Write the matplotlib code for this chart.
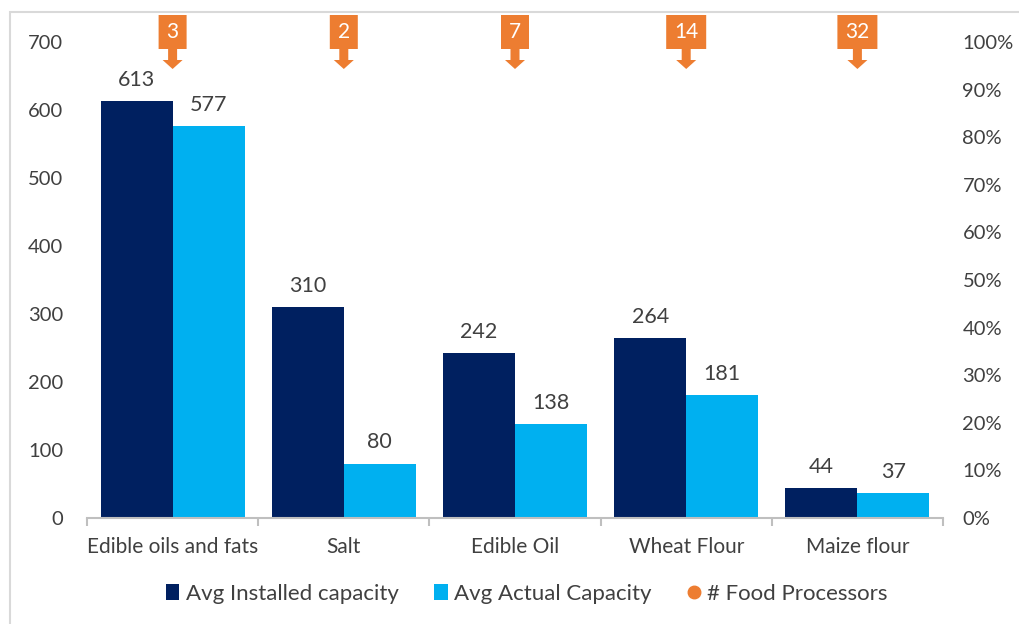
import numpy as np
import matplotlib
matplotlib.use("Agg")
import matplotlib.pyplot as plt
import matplotlib.transforms as mtransforms
from matplotlib.patches import Polygon, Rectangle
from matplotlib.lines import Line2D

plt.rcParams['font.family'] = ['Lato', 'DejaVu Sans']

categories = ["Edible oils and fats", "Salt", "Edible Oil", "Wheat Flour", "Maize flour"]
installed = [613, 310, 242, 264, 44]
actual = [577, 80, 138, 181, 37]
processors = [3, 2, 7, 14, 32]

navy = "#002060"
cyan = "#00B0F0"
orange = "#ED7D31"
grey_txt = "#404040"

W, H = 1019, 624
fig = plt.figure(figsize=(W / 100, H / 100), dpi=100)
ax = fig.add_axes([87 / W, 1 - 518 / H, (943 - 87) / W, (518 - 42) / H])

x = np.arange(len(categories))
bw = 0.42
b1 = ax.bar(x - bw / 2, installed, bw, color=navy, label="Avg Installed capacity")
b2 = ax.bar(x + bw / 2, actual, bw, color=cyan, label="Avg Actual Capacity")

for bars in (b1, b2):
    for r in bars:
        ax.annotate(f"{int(r.get_height())}", (r.get_x() + r.get_width() / 2, r.get_height()),
                    xytext=(0, 8), textcoords="offset points", ha="center", va="bottom",
                    fontsize=15.5, color=grey_txt)

ax.set_xlim(-0.5, len(categories) - 0.5)
ax.set_ylim(0, 700)
ax.set_yticks(range(0, 701, 100))
ax.set_xticks(np.arange(-0.5, len(categories), 1.0))
ax.set_xticklabels([])
ax.set_xticks(x, minor=True)
ax.set_xticklabels(categories, minor=True)
ax.tick_params(axis="x", which="major", length=6, color="#BFBFBF", width=1.5)
ax.tick_params(axis="x", which="minor", length=0, pad=14, labelsize=15, labelcolor=grey_txt)
ax.tick_params(axis="y", length=0, pad=17, labelsize=14.5, labelcolor=grey_txt)
for s in ("top", "right", "left"):
    ax.spines[s].set_visible(False)
ax.spines["bottom"].set_color("#BFBFBF")
ax.spines["bottom"].set_linewidth(1.5)

ax2 = ax.twinx()
ax2.set_ylim(0, 1)
ax2.set_yticks(np.linspace(0, 1, 11))
ax2.set_yticklabels([f"{int(round(v * 100))}%" for v in np.linspace(0, 1, 11)])
ax2.tick_params(axis="y", length=0, pad=14, labelsize=14.5, labelcolor=grey_txt)
for s in ax2.spines.values():
    s.set_visible(False)

# callouts for number of processors
cat_px = (943 - 87) / len(categories)
trans = mtransforms.blended_transform_factory(ax.transData, fig.transFigure)
for xi, n in zip(x, processors):
    label = str(n)
    hw = (16 + 12 * len(label)) / 2
    pts_px = [(-hw, 15), (hw, 15), (hw, 49), (4.5, 49), (4.5, 60), (10, 60), (0, 69),
              (-10, 60), (-4.5, 60), (-4.5, 49), (-hw, 49)]
    verts = [(xi + dx / cat_px, 1 - dy / H) for dx, dy in pts_px]
    fig.patches.append(Polygon(verts, closed=True, transform=trans, facecolor=orange,
                               edgecolor="none", figure=fig))
    fig.text(ax.transData.transform((xi, 0))[0] / W, 1 - 32 / H, label, ha="center", va="center",
             fontsize=15, color="white")

# chart frame
fig.patches.append(Rectangle((10 / W, -0.1), 1.2, 1 - 12 / H + 0.1, transform=fig.transFigure,
                             facecolor="none", edgecolor="#D9D9D9", linewidth=1.5, figure=fig,
                             zorder=-1))

handles = [b1, b2,
           Line2D([], [], marker="o", color="none", markerfacecolor=orange,
                  markeredgecolor=orange, markersize=9)]
fig.legend(handles, ["Avg Installed capacity", "Avg Actual Capacity", "# Food Processors"],
           loc="center", bbox_to_anchor=(527 / W, 1 - 594 / H), ncol=3, frameon=False,
           fontsize=16, labelcolor=grey_txt, handlelength=0.6, handletextpad=0.3,
           columnspacing=1.6)

fig.savefig("out.png", dpi=100)
